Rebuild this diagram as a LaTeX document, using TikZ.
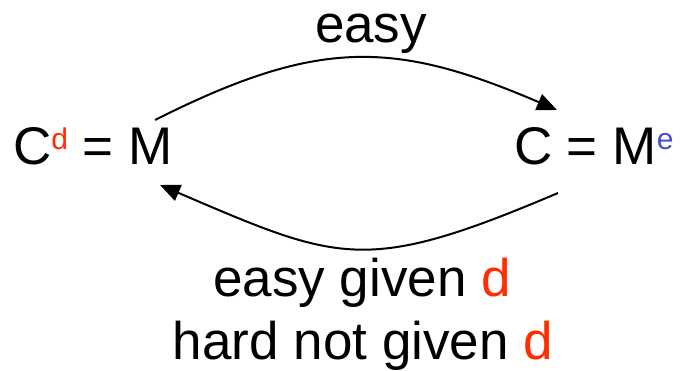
\documentclass[tikz,border=0pt]{standalone}
\usepackage{fontspec}
\setmainfont{Liberation Sans}
\usetikzlibrary{arrows.meta}
\definecolor{dred}{RGB}{255,45,0}
\definecolor{eblue}{RGB}{75,75,215}
\tikzset{
  big/.style={inner sep=0pt, outer sep=0pt, font=\fontsize{53}{60}\selectfont},
  conn/.style={line width=2pt, -{Triangle[length=20pt,width=17pt]}}
}
\newcommand{\supd}[2]{\raisebox{15pt}{\fontsize{30}{32}\selectfont\color{#1}#2}}
\begin{document}
\begin{tikzpicture}[x=1pt,y=-1pt]
\useasboundingbox (0,0) rectangle (681,371);
\node[big, anchor=base west] (L) at (13,165) {C\supd{dred}{d} = M};
\node[big, anchor=base west] (R) at (514,165) {C = M\supd{eblue}{e}};
\node[big, anchor=base] (T) at (371,43) {easy};
\node[big, anchor=base] (B1) at (362,297) {easy given {\color{dred}d}};
\node[big, anchor=base] (B2) at (363,360) {hard not given {\color{dred}d}};
\coordinate (ts) at (155,120);
\coordinate (te) at (557,110);
\coordinate (bs) at (558,193);
\coordinate (be) at (160,185);
\draw[conn] (ts) .. controls (318,38) and (394,40) .. (te);
\draw[conn] (bs) .. controls (365,275) and (340,262) .. (be);
\end{tikzpicture}
\end{document}
